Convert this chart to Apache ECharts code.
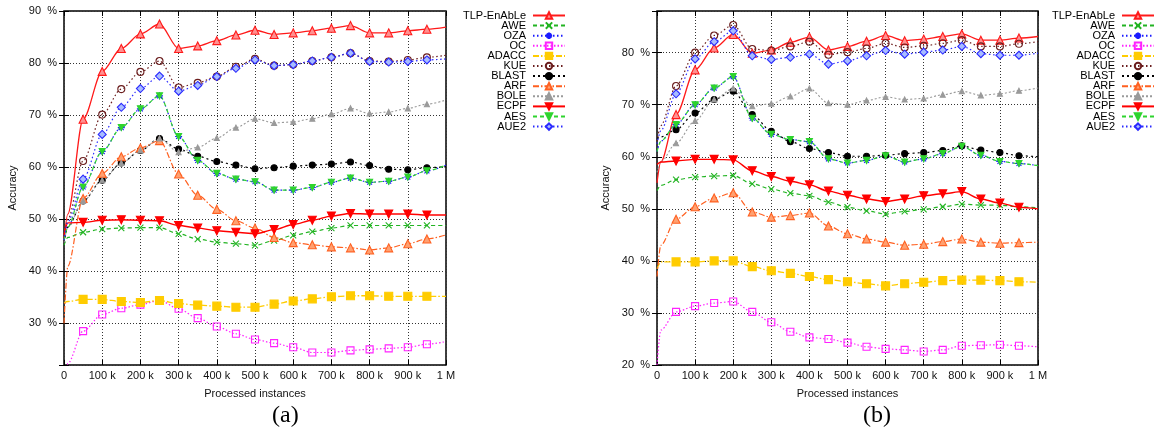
<!DOCTYPE html>
<html>
<head>
<meta charset="utf-8">
<script src="https://cdn.jsdelivr.net/npm/echarts@6/dist/echarts.min.js"></script>
<style>
html, body { margin: 0; padding: 0; background: #fff; }
#chart { width: 1155px; height: 429px; }
</style>
</head>
<body>
<div id="chart"></div>
<script>
// Processed instances at which accuracy was recorded
const instances = [0, 10000, 50000, 100000, 150000, 200000, 250000, 300000, 350000, 400000,
  450000, 500000, 550000, 600000, 650000, 700000, 750000, 800000, 850000, 900000, 950000, 1000000];

const methods = ['TLP-EnAbLe', 'AWE', 'OZA', 'OC', 'ADACC', 'KUE', 'BLAST', 'ARF', 'BOLE', 'ECPF', 'AES', 'AUE2'];

// Panel (a): accuracy in %
const tlpA   = [46, 51, 69.2, 78.4, 82.8, 85.6, 87.5, 82.8, 83.3, 84.3, 85.4, 86.3, 85.5, 85.8, 86.2, 86.7, 87.2, 85.8, 85.8, 86.2, 86.5, 86.9];
const aweA   = [45, 46.5, 47.5, 48.1, 48.3, 48.4, 48.4, 47.2, 46.2, 45.6, 45.3, 45.0, 45.9, 46.9, 47.6, 48.3, 48.8, 48.8, 48.8, 48.8, 48.8, 48.8];
const ozaA   = [46, 48.5, 56.2, 63.0, 67.6, 71.2, 73.7, 65.9, 61.3, 58.8, 57.7, 57.2, 55.6, 55.6, 56.1, 57.1, 57.9, 57.1, 57.3, 58.1, 59.3, 60.4];
const ocA    = [12, 22.3, 28.5, 31.7, 32.9, 33.6, 34.4, 32.8, 31.0, 29.4, 28.0, 26.9, 26.2, 25.4, 24.4, 24.4, 24.8, 25.0, 25.2, 25.4, 26.0, 26.5];
const adaccA = [34, 34.2, 34.6, 34.6, 34.2, 34.0, 34.4, 33.8, 33.5, 33.3, 33.1, 33.1, 33.7, 34.3, 34.7, 35.1, 35.3, 35.3, 35.2, 35.2, 35.2, 35.2];
const kueA   = [46, 50, 61.2, 70.1, 75.0, 78.3, 80.4, 75.3, 76.2, 77.4, 79.3, 80.8, 79.5, 79.7, 80.4, 81.1, 81.9, 80.4, 80.3, 80.6, 81.1, 81.5];
const blastA = [45.5, 48.5, 53.5, 57.5, 60.8, 63.2, 65.5, 63.5, 62.1, 61.1, 60.4, 59.7, 59.9, 60.2, 60.4, 60.6, 61.0, 60.3, 59.6, 59.5, 59.9, 60.1];
const arfA   = [30, 41, 54.0, 58.8, 62.0, 63.7, 65.1, 58.7, 54.6, 51.9, 49.7, 48.3, 46.5, 45.5, 45.1, 44.7, 44.5, 44.1, 44.5, 45.3, 46.2, 47.0];
const boleA  = [45.5, 48.5, 53.5, 57.5, 60.8, 63.2, 65.5, 62.9, 63.8, 65.6, 67.6, 69.3, 68.5, 68.7, 69.3, 70.2, 71.3, 70.3, 70.6, 71.3, 72.1, 72.9];
const ecpfA  = [47, 49.3, 49.4, 49.8, 49.9, 49.8, 49.7, 48.8, 48.3, 47.8, 47.5, 47.2, 48.0, 49.0, 49.8, 50.6, 51.1, 51.0, 51.0, 51.0, 50.8, 50.8];
const aesA   = [46, 48.5, 56.2, 63.0, 67.6, 71.2, 73.7, 65.9, 61.3, 58.8, 57.7, 57.2, 55.6, 55.6, 56.1, 57.1, 57.9, 57.1, 57.3, 58.1, 59.3, 60.4];
const aue2A  = [46, 49.5, 57.7, 66.3, 71.5, 75.1, 77.5, 74.6, 75.7, 77.4, 79.0, 80.6, 79.5, 79.7, 80.4, 81.1, 81.9, 80.3, 80.2, 80.3, 80.6, 80.8];

// Panel (b): accuracy in %
const tlpB   = [55, 59, 68.1, 76.7, 80.9, 83.5, 79.9, 80.5, 82.0, 83.0, 80.5, 81.2, 82.2, 83.3, 82.3, 82.6, 83.1, 83.6, 82.4, 82.4, 82.8, 83.1];
const aweB   = [53.5, 54.5, 55.6, 56.1, 56.3, 56.4, 54.8, 53.8, 53.0, 52.5, 51.3, 50.3, 49.6, 49.0, 49.5, 49.9, 50.4, 50.9, 50.7, 50.7, 50.4, 50.2];
const ozaB   = [61, 63, 66.2, 70.0, 73.2, 75.4, 67.4, 64.3, 63.3, 62.9, 59.6, 58.8, 59.3, 60.2, 59.0, 59.6, 60.6, 62.0, 60.3, 59.1, 58.7, 58.3];
const ocB    = [20, 26.7, 30.2, 31.3, 31.9, 32.2, 30.2, 28.2, 26.4, 25.3, 25.0, 24.3, 23.5, 23.1, 22.9, 22.6, 22.9, 23.7, 23.8, 23.9, 23.7, 23.5];
const adaccB = [38.5, 39.8, 39.8, 39.8, 40.0, 40.0, 38.9, 38.1, 37.6, 37.0, 36.4, 36.0, 35.6, 35.2, 35.6, 35.9, 36.2, 36.3, 36.3, 36.2, 36.0, 35.9];
const kueB   = [63, 66, 73.6, 80.0, 83.3, 85.3, 80.7, 80.4, 81.2, 82.1, 79.6, 80.1, 80.8, 81.8, 81.0, 81.3, 81.8, 82.4, 81.2, 81.2, 81.7, 82.1];
const blastB = [63.5, 63.8, 65.2, 68.4, 71.0, 72.6, 68.1, 64.9, 62.9, 61.6, 60.8, 60.1, 60.1, 60.3, 60.6, 60.8, 61.2, 62.1, 61.3, 60.8, 60.2, 60.0];
const arfB   = [37, 43, 48.0, 50.4, 52.1, 53.1, 49.4, 48.4, 48.7, 49.2, 46.7, 45.2, 44.2, 43.6, 43.0, 43.2, 43.7, 44.2, 43.6, 43.4, 43.5, 43.6];
const boleB  = [57, 59, 62.6, 66.9, 71.0, 73.1, 69.7, 70.2, 71.6, 73.1, 70.3, 70.0, 70.8, 71.5, 71.0, 71.2, 71.9, 72.6, 71.8, 72.1, 72.7, 73.2];
const ecpfB  = [58.5, 59.0, 59.2, 59.5, 59.5, 59.4, 57.3, 56.2, 55.3, 54.6, 53.4, 52.6, 51.9, 51.4, 51.9, 52.5, 52.9, 53.3, 51.9, 51.1, 50.3, 50.0];
const aesB   = [61, 63, 66.2, 70.0, 73.2, 75.4, 67.4, 64.3, 63.3, 62.9, 59.6, 58.8, 59.3, 60.2, 59.0, 59.6, 60.6, 62.0, 60.3, 59.1, 58.7, 58.3];
const aue2B  = [62.5, 65, 72.1, 78.8, 82.1, 84.2, 79.4, 78.7, 79.1, 79.7, 77.8, 78.4, 79.4, 80.4, 79.7, 80.1, 80.5, 81.2, 79.8, 79.5, 79.5, 79.9];

const panelA = [tlpA, aweA, ozaA, ocA, adaccA, kueA, blastA, arfA, boleA, ecpfA, aesA, aue2A];
const panelB = [tlpB, aweB, ozaB, ocB, adaccB, kueB, blastB, arfB, boleB, ecpfB, aesB, aue2B];

// Marker shapes
const CROSS = 'path://M0,0L10,10M0,10L10,0';
const STAR = 'path://M5,0L5,10M0,5L10,5M1.5,1.5L8.5,8.5M8.5,1.5L1.5,8.5';
const TRI_DOWN = 'path://M0,0L10,0L5,9Z';

const styles = {
  'TLP-EnAbLe': { line: '#ff1a1a', dash: 'solid', w: 1.3, symbol: 'triangle', size: 8, fill: '#ff9090', stroke: '#ff1a1a' },
  'AWE':        { line: '#22b422', dash: [4, 3], w: 1.2, symbol: CROSS, size: 6, fill: 'transparent', stroke: '#22b422' },
  'OZA':        { line: '#1a1aff', dash: [1.5, 2.5], w: 1.2, symbol: STAR, size: 7, fill: 'transparent', stroke: '#1a1aff' },
  'OC':         { line: '#ff22ff', dash: [1.5, 2], w: 1.2, symbol: 'rect', size: 7, fill: 'transparent', stroke: '#ff22ff' },
  'ADACC':      { line: '#ffcc00', dash: [6, 2, 1.5, 2], w: 1.3, symbol: 'rect', size: 8, fill: '#ffcc00', stroke: '#ffcc00' },
  'KUE':        { line: '#6b1e1e', dash: [1.5, 2.5], w: 1.2, symbol: 'circle', size: 7, fill: 'transparent', stroke: '#6b1e1e' },
  'BLAST':      { line: '#000000', dash: [2, 3], w: 1.2, symbol: 'circle', size: 6, fill: '#000000', stroke: '#000000' },
  'ARF':        { line: '#ff6020', dash: [6, 2, 1.5, 2], w: 1.2, symbol: 'triangle', size: 8, fill: '#ffa070', stroke: '#ff6020' },
  'BOLE':       { line: '#9a9a9a', dash: [2, 2], w: 1.1, symbol: 'triangle', size: 5, fill: '#9a9a9a', stroke: '#9a9a9a' },
  'ECPF':       { line: '#ff0000', dash: 'solid', w: 1.4, symbol: TRI_DOWN, size: 8, fill: '#ff0000', stroke: '#ff0000' },
  'AES':        { line: '#2ed42e', dash: [4, 3], w: 1.2, symbol: TRI_DOWN, size: 6, fill: '#2ed42e', stroke: '#2ed42e' },
  'AUE2':       { line: '#2a2aff', dash: [1.5, 2.5], w: 1.2, symbol: 'diamond', size: 8, fill: '#a8bcff', stroke: '#2a2aff' }
};

const FONT = 'Liberation Sans';

function makeSeries(name, values, axisIdx) {
  const st = styles[name];
  const data = instances.map((x, i) => {
    const item = { value: [x, values[i]] };
    if (x === 0 || x === 1000000 || x % 50000 !== 0) item.symbol = 'none';
    return item;
  });
  return {
    name: name,
    type: 'line',
    xAxisIndex: axisIdx,
    yAxisIndex: axisIdx,
    data: data,
    smooth: 0.3,
    smoothMonotone: 'x',
    symbol: st.symbol,
    symbolSize: st.size,
    showAllSymbol: true,
    clip: true,
    lineStyle: { color: st.line, width: st.w, type: st.dash },
    itemStyle: { color: st.fill, borderColor: st.stroke, borderWidth: 1.1 },
    emphasis: { disabled: true }
  };
}

const xLabel = v => v === 0 ? '0' : (v === 1000000 ? '1 M' : (v / 1000) + ' k');
const yLabel = v => (v % 10 === 0) ? v + '  %' : '';

const GRID_LINE = { show: true, lineStyle: { color: '#333', type: [1, 2], width: 1 } };
const TICK = { show: true, inside: true, length: 5, lineStyle: { color: '#000' } };

function bottomAxis(gi) {
  return {
    type: 'value', gridIndex: gi, min: 0, max: 1000000, interval: 100000,
    name: 'Processed instances', nameLocation: 'middle', nameGap: 23,
    nameTextStyle: { fontFamily: FONT, fontSize: 11, color: '#111' },
    axisLine: { show: false },
    axisTick: TICK,
    axisLabel: { formatter: xLabel, fontFamily: FONT, fontSize: 11, color: '#111', margin: 5 },
    splitLine: GRID_LINE
  };
}
function topAxis(gi) {
  return {
    type: 'value', gridIndex: gi, position: 'top', min: 0, max: 1000000, interval: 100000,
    axisLine: { show: false }, axisLabel: { show: false }, splitLine: { show: false },
    axisTick: TICK
  };
}
function leftAxis(gi, min, max) {
  return {
    type: 'value', gridIndex: gi, min: min, max: max, splitNumber: 7,
    name: 'Accuracy', nameLocation: 'middle', nameGap: 46, nameRotate: 90,
    nameTextStyle: { fontFamily: FONT, fontSize: 11, color: '#111' },
    axisLine: { show: false },
    axisTick: TICK,
    axisLabel: { formatter: yLabel, fontFamily: FONT, fontSize: 11, color: '#111', margin: 7 },
    splitLine: GRID_LINE
  };
}
function rightAxis(gi, min, max) {
  return {
    type: 'value', gridIndex: gi, position: 'right', min: min, max: max, splitNumber: 7,
    axisLine: { show: false }, axisLabel: { show: false }, splitLine: { show: false },
    axisTick: TICK
  };
}

function legendAt(right) {
  return {
    orient: 'vertical', right: right, top: 10, padding: 0,
    align: 'right', itemWidth: 32, itemHeight: 8, itemGap: -0.9,
    selectedMode: false, data: methods,
    textStyle: { fontFamily: FONT, fontSize: 11, color: '#000', lineHeight: 11, padding: [0, 2, 0, 0] }
  };
}

const series = [];
methods.forEach((m, i) => series.push(makeSeries(m, panelA[i], 0)));
methods.forEach((m, i) => series.push(makeSeries(m, panelB[i], 1)));

const chart = echarts.init(document.getElementById('chart'), null, { renderer: 'canvas' });
chart.setOption({
  animation: false,
  backgroundColor: '#fff',
  grid: [
    { left: 64, top: 11, width: 382, height: 354, show: true, borderColor: '#000', borderWidth: 1.5, backgroundColor: 'transparent' },
    { left: 657, top: 11, width: 381, height: 354, show: true, borderColor: '#000', borderWidth: 1.5, backgroundColor: 'transparent' }
  ],
  xAxis: [bottomAxis(0), bottomAxis(1), topAxis(0), topAxis(1)],
  yAxis: [leftAxis(0, 22, 90), leftAxis(1, 20, 88), rightAxis(0, 22, 90), rightAxis(1, 20, 88)],
  legend: [legendAt(589), legendAt(0)],
  graphic: [
    { type: 'text', left: 272, top: 404, style: { text: '(a)', fontFamily: 'Liberation Serif', fontSize: 24, fill: '#000' } },
    { type: 'text', left: 863, top: 404, style: { text: '(b)', fontFamily: 'Liberation Serif', fontSize: 24, fill: '#000' } }
  ],
  series: series
});
</script>
</body>
</html>
